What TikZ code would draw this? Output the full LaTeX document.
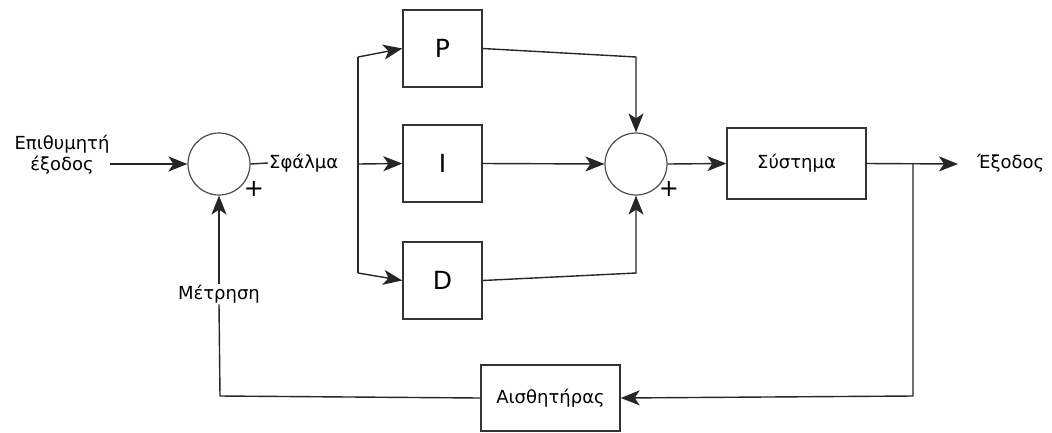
\documentclass[tikz,border=0pt]{standalone}
\usepackage{fontspec}
\setmainfont{DejaVu Sans}
\usetikzlibrary{arrows.meta,calc}
\begin{document}
\begin{tikzpicture}[x=1pt,y=-1pt,
  wire/.style={line width=1.4pt,draw=black!85},
  arr/.style={wire,-{Stealth[length=19pt,width=15pt,inset=5pt]}},
  blk/.style={draw=black!80,line width=1.4pt,minimum width=#1,inner sep=0pt},
  sumnode/.style={circle,draw=black!70,line width=1.2pt,minimum size=62pt,inner sep=0pt},
  lbl/.style={font=\fontsize{18}{21}\selectfont,inner sep=1pt},
  plus/.style={font=\fontsize{24}{26}\selectfont,inner sep=0pt},
  big/.style={font=\fontsize{25}{28}\selectfont}
]
\useasboundingbox (0,0) rectangle (1052,432);
% nodes
\node[lbl,align=center] (in) at (62,155) {Επιθυμητή\\έξοδος};
\coordinate (inA) at (110,164);
\node[sumnode] (s1) at (219,164) {};
\node[plus] at (254,189) {+};
\node[lbl,anchor=west] (err) at (268,163) {Σφάλμα};
\coordinate (bt) at (358,57);
\coordinate (bm) at (358,164);
\coordinate (bb) at (358,273);
\node[blk=79pt,minimum height=77pt,big] (P) at (442.5,48.5) {P};
\node[blk=79pt,minimum height=77pt,big] (I) at (442.5,163.5) {I};
\node[blk=79pt,minimum height=77pt,big] (D) at (442.5,280.5) {D};
\node[sumnode] (s2) at (636,164) {};
\node[plus] at (669,189) {+};
\coordinate (pc) at (636,57);
\coordinate (dc) at (636,273);
\node[blk=139pt,minimum height=71pt,lbl] (sys) at (796.5,163.5) {Σύστημα};
\coordinate (br) at (913,164);
\coordinate (out) at (958,164);
\node[lbl,anchor=west] (outl) at (976,163) {Έξοδος};
\coordinate (brb) at (913,396);
\node[blk=139pt,minimum height=66pt,lbl] (sen) at (550.5,398) {Αισθητήρας};
\coordinate (fl) at (220,396);
\node[lbl,fill=white] (met) at (219,294) {Μέτρηση};
% connectors
\draw[arr] (inA) -- (s1.west);
\draw[wire] (s1.east) -- (err.west);
\draw[wire] (bt) -- (bb);
\draw[arr] (bt) -- (P.west);
\draw[arr] (bm) -- (I.west);
\draw[arr] (bb) -- (D.west);
\draw[arr] (P.east) -- (pc) -- (s2.north);
\draw[arr] (I.east) -- (s2.west);
\draw[arr] (D.east) -- (dc) -- (s2.south);
\draw[arr] (s2.east) -- (sys.west);
\draw[arr] (sys.east) -- (out);
\draw[arr] (br) -- (brb) -- (sen.east);
\draw[wire] (sen.west) -- (fl) -- (met.south);
\draw[arr] (met.north) -- (s1.south);
\end{tikzpicture}
\end{document}
